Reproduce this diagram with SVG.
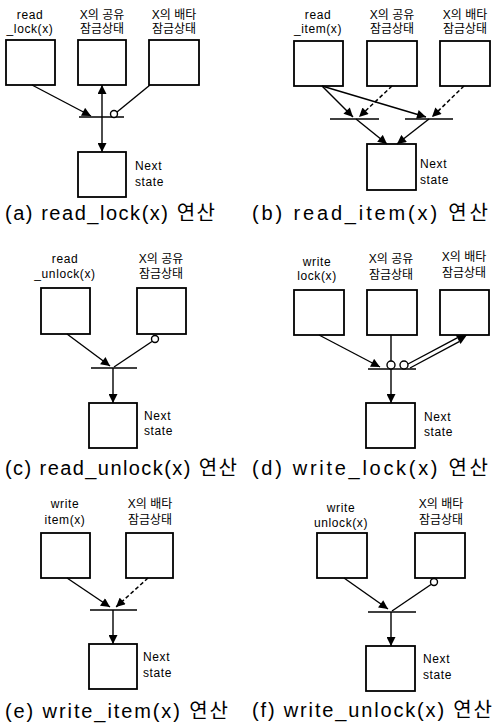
<svg xmlns="http://www.w3.org/2000/svg" width="496" height="724" viewBox="0 0 496 724">
<defs>
<style>
.box{fill:#fff;stroke:#000;stroke-width:1.8}
.bar{stroke:#000;stroke-width:1.5}
.ln{stroke:#000;stroke-width:1.4;fill:none}
.dash{stroke-dasharray:4 2.5;stroke-width:1.5}
.arr{marker-end:url(#ah)}
.circ{fill:#fff;stroke:#000;stroke-width:1.4}
.lbl{font-family:"Liberation Sans","Noto Sans CJK KR",sans-serif;font-size:12px;fill:#000;text-anchor:middle}
.lat{letter-spacing:0.6px}
.nx{font-family:"Liberation Sans",sans-serif;font-size:12px;fill:#000;letter-spacing:0.6px}
.cap{font-family:"Liberation Sans","Noto Sans CJK KR",sans-serif;font-size:20px;fill:#000}
</style>
<marker id="ah" viewBox="0 0 10 10" refX="10" refY="5" markerWidth="10" markerHeight="9" markerUnits="userSpaceOnUse" orient="auto-start-reverse">
<path d="M0,0 L10,5 L0,10 z" fill="#000"/>
</marker>
</defs>
<rect width="496" height="724" fill="#fff"/>

<!-- Panel (a) -->
<g id="a-read-lock"><rect class="box" x="6" y="40" width="49" height="45"/><text class="lbl lat" x="30" y="19">read</text><text class="lbl lat" x="30" y="33">_lock(x)</text></g>
<g id="a-shared"><rect class="box" x="78" y="40" width="48" height="45"/><text class="lbl" x="102" y="19">X의 공유</text><text class="lbl" x="102" y="33">잠금상태</text></g>
<g id="a-exclusive"><rect class="box" x="149" y="40" width="50" height="45"/><text class="lbl" x="174" y="19">X의 배타</text><text class="lbl" x="174" y="33">잠금상태</text></g>
<g id="a-bar"><line class="bar" x1="79" y1="117" x2="124" y2="117"/></g>
<g id="a-next"><rect class="box" x="78" y="152" width="48" height="45"/><text class="nx" x="135" y="170">Next</text><text class="nx" x="135" y="186">state</text></g>
<text id="a-caption" class="cap" x="5" y="220" textLength="210" lengthAdjust="spacing">(a) read_lock(x) 연산</text>

<!-- Panel (b) -->
<g id="b-read-item"><rect class="box" x="294" y="41" width="49" height="45"/><text class="lbl lat" x="318" y="19">read</text><text class="lbl lat" x="318" y="33">_item(x)</text></g>
<g id="b-shared"><rect class="box" x="367" y="41" width="50" height="45"/><text class="lbl" x="392" y="19">X의 공유</text><text class="lbl" x="392" y="33">잠금상태</text></g>
<g id="b-exclusive"><rect class="box" x="440" y="41" width="50" height="45"/><text class="lbl" x="465" y="19">X의 배타</text><text class="lbl" x="465" y="33">잠금상태</text></g>
<g id="b-bar1"><line class="bar" x1="330" y1="119" x2="379" y2="119"/></g>
<g id="b-bar2"><line class="bar" x1="405" y1="119" x2="453" y2="119"/></g>
<g id="b-next"><rect class="box" x="367" y="144" width="49" height="46"/><text class="nx" x="420" y="168">Next</text><text class="nx" x="420" y="184">state</text></g>
<text id="b-caption" class="cap" x="252" y="220" textLength="236" lengthAdjust="spacing">(b) read_item(x) 연산</text>

<!-- Panel (c) -->
<g id="c-read-unlock"><rect class="box" x="41" y="288" width="49" height="46"/><text class="lbl lat" x="65" y="263">read</text><text class="lbl lat" x="65" y="278">_unlock(x)</text></g>
<g id="c-shared"><rect class="box" x="137" y="288" width="49" height="46"/><text class="lbl" x="161" y="263">X의 공유</text><text class="lbl" x="161" y="278">잠금상태</text></g>
<g id="c-bar"><line class="bar" x1="91" y1="368" x2="137" y2="368"/></g>
<g id="c-next"><rect class="box" x="89" y="403" width="48" height="45"/><text class="nx" x="144" y="420">Next</text><text class="nx" x="144" y="435">state</text></g>
<text id="c-caption" class="cap" x="5" y="475" textLength="232" lengthAdjust="spacing">(c) read_unlock(x) 연산</text>

<!-- Panel (d) -->
<g id="d-write-lock"><rect class="box" x="294" y="290" width="50" height="45"/><text class="lbl lat" x="317" y="266">write</text><text class="lbl lat" x="317" y="280">lock(x)</text></g>
<g id="d-shared"><rect class="box" x="367" y="290" width="50" height="45"/><text class="lbl" x="391" y="263">X의 공유</text><text class="lbl" x="391" y="279">잠금상태</text></g>
<g id="d-exclusive"><rect class="box" x="440" y="290" width="49" height="45"/><text class="lbl" x="464" y="261">X의 배타</text><text class="lbl" x="464" y="277">잠금상태</text></g>
<g id="d-bar"><line class="bar" x1="368" y1="369" x2="416" y2="369"/></g>
<g id="d-next"><rect class="box" x="366" y="403" width="49" height="45"/><text class="nx" x="424" y="421">Next</text><text class="nx" x="424" y="436">state</text></g>
<text id="d-caption" class="cap" x="252" y="475" textLength="236" lengthAdjust="spacing">(d) write_lock(x) 연산</text>

<!-- Panel (e) -->
<g id="e-write-item"><rect class="box" x="41" y="533" width="49" height="45"/><text class="lbl lat" x="65" y="508">write</text><text class="lbl lat" x="65" y="524">item(x)</text></g>
<g id="e-exclusive"><rect class="box" x="126" y="533" width="47" height="45"/><text class="lbl" x="150" y="508">X의 배타</text><text class="lbl" x="150" y="524">잠금상태</text></g>
<g id="e-bar"><line class="bar" x1="90" y1="610" x2="137" y2="610"/></g>
<g id="e-next"><rect class="box" x="89" y="644" width="48" height="45"/><text class="nx" x="143" y="661">Next</text><text class="nx" x="143" y="677">state</text></g>
<text id="e-caption" class="cap" x="5" y="718" textLength="223" lengthAdjust="spacing">(e) write_item(x) 연산</text>

<!-- Panel (f) -->
<g id="f-write-unlock"><rect class="box" x="317" y="533" width="50" height="45"/><text class="lbl lat" x="341" y="512">write</text><text class="lbl lat" x="341" y="527">unlock(x)</text></g>
<g id="f-exclusive"><rect class="box" x="415" y="533" width="50" height="45"/><text class="lbl" x="441" y="508">X의 배타</text><text class="lbl" x="441" y="524">잠금상태</text></g>
<g id="f-bar"><line class="bar" x1="368" y1="612" x2="416" y2="612"/></g>
<g id="f-next"><rect class="box" x="366" y="646" width="49" height="45"/><text class="nx" x="423" y="663">Next</text><text class="nx" x="423" y="679">state</text></g>
<text id="f-caption" class="cap" x="252" y="717" textLength="240" lengthAdjust="spacing">(f) write_unlock(x) 연산</text>

<!-- Connectors -->
<g id="connectors">
<line class="ln arr" x1="32" y1="85" x2="91" y2="116"/>
<line class="ln" x1="102" y1="85" x2="102" y2="152" marker-start="url(#ah)" marker-end="url(#ah)"/>
<line class="ln" x1="150" y1="85" x2="117" y2="112"/>
<circle class="circ" cx="114" cy="114" r="3.5"/>

<line class="ln arr" x1="322" y1="86" x2="353" y2="117"/>
<line class="ln dash arr" x1="392" y1="86" x2="359" y2="117"/>
<line class="ln arr" x1="322" y1="86" x2="426" y2="117"/>
<line class="ln dash arr" x1="464" y1="86" x2="432" y2="117"/>
<line class="ln arr" x1="356" y1="119" x2="387" y2="144"/>
<line class="ln arr" x1="429" y1="119" x2="397" y2="144"/>

<line class="ln arr" x1="67" y1="334" x2="110" y2="366"/>
<circle class="circ" cx="155" cy="339" r="3.5"/>
<line class="ln" x1="152" y1="341.5" x2="114" y2="367"/>
<line class="ln arr" x1="113" y1="368" x2="113" y2="403"/>

<line class="ln arr" x1="319" y1="335" x2="380" y2="367"/>
<line class="ln" x1="391" y1="335" x2="391" y2="361"/>
<circle class="circ" cx="391" cy="365" r="4"/>
<circle class="circ" cx="404" cy="365" r="4"/>
<line class="ln" x1="408" y1="364" x2="457.2" y2="337.8"/>
<line class="ln" x1="410" y1="368" x2="459.2" y2="341.6"/>
<polygon points="467,335 460.5,344.1 455.8,335.3" fill="#000"/>
<line class="ln arr" x1="391" y1="369" x2="391" y2="403"/>

<line class="ln arr" x1="67" y1="578" x2="110" y2="607"/>
<line class="ln dash arr" x1="148" y1="578" x2="116" y2="607"/>
<line class="ln arr" x1="113" y1="610" x2="113" y2="644"/>

<line class="ln arr" x1="344" y1="578" x2="388" y2="609"/>
<circle class="circ" cx="434" cy="582" r="3.5"/>
<line class="ln" x1="431" y1="584.5" x2="392" y2="611"/>
<line class="ln arr" x1="391" y1="612" x2="391" y2="646"/>
</g>
</svg>
